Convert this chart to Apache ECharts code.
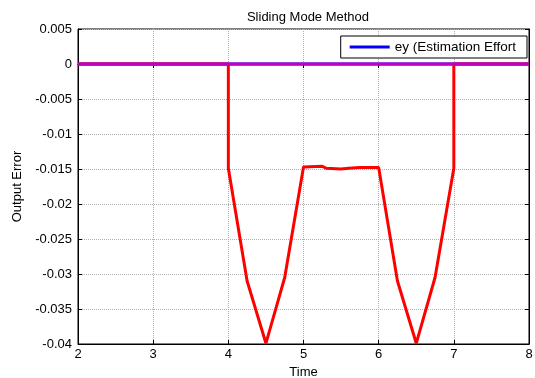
<!DOCTYPE html>
<html><head><meta charset="utf-8">
<script src="https://cdn.jsdelivr.net/npm/echarts@6/dist/echarts.min.js"></script>
<style>html,body{margin:0;padding:0;background:#fff}#c{width:535px;height:378px}</style>
</head><body><div id="c"></div>
<script>
var xTicks = [2, 3, 4, 5, 6, 7, 8];
var yTicks = [0.005, 0, -0.005, -0.01, -0.015, -0.02, -0.025, -0.03, -0.035, -0.04];
var timeFlat = [2, 8];
var eyBlue = [0, 0];
var emMagenta = [0, 0];
var timeRed = [2, 4, 4, 4.25, 4.5, 4.75, 5, 5.25, 5.3, 5.5, 5.6, 5.75, 6, 6.25, 6.5, 6.75, 7, 7, 8];
var errRed = [0, 0, -0.0149, -0.031, -0.0399, -0.0305, -0.0147, -0.0146, -0.0149, -0.015, -0.0149, -0.0148, -0.0148, -0.031, -0.0399, -0.0305, -0.0149, 0, 0];

function pairs(xs, ys){ return xs.map(function(x,i){ return [x, ys[i]]; }); }
var font = 'Liberation Sans, Arial, sans-serif';
var fs = 13;
var chart = echarts.init(document.getElementById('c'), null, {renderer:'canvas'});
var gridLine = {show:true, lineStyle:{color:'#b0b0b0', type:[1,1], width:1}};
chart.setOption({
  animation:false,
  backgroundColor:'#fff',
  title:{text:'Sliding Mode Method', left:303, top:6, textAlign:'center',
    textStyle:{fontFamily:font, fontSize:fs, fontWeight:'normal', color:'#000'}},
  grid:{left:78, right:6, top:29, bottom:34, outerBoundsMode:'none', containLabel:false,
    show:true, borderColor:'#000', borderWidth:1},
  legend:{data:['ey (Estimation Effort'], right:8, top:36, orient:'vertical',
    backgroundColor:'#fff', borderColor:'#000', borderWidth:1, padding:[4,11,4,9],
    itemWidth:40, itemHeight:3, icon:'rect', itemGap:0,
    textStyle:{fontFamily:font, fontSize:13.5, color:'#000'}},
  xAxis:[{type:'value', min:2, max:8, interval:1, name:'Time', nameLocation:'middle', nameGap:22,
    nameTextStyle:{fontFamily:font, fontSize:fs, color:'#000'},
    axisLine:{show:true, onZero:false, lineStyle:{color:'#000', width:1}},
    axisTick:{show:true, inside:true, length:4, lineStyle:{color:'#000'}},
    axisLabel:{fontFamily:font, fontSize:fs, color:'#000', margin:4},
    splitLine:gridLine},
   {type:'value', position:'top', min:2, max:8, interval:1,
    axisLine:{show:true, lineStyle:{color:'#000'}},
    axisTick:{show:true, inside:true, length:4, lineStyle:{color:'#000'}},
    axisLabel:{show:false}, splitLine:{show:false}}],
  yAxis:[{type:'value', min:-0.04, max:0.005, interval:0.005, name:'Output Error', nameLocation:'middle', nameGap:42,
    nameTextStyle:{fontFamily:font, fontSize:fs, color:'#000'},
    axisLine:{show:true, onZero:false, lineStyle:{color:'#000', width:1}},
    axisTick:{show:true, inside:true, length:4, lineStyle:{color:'#000'}},
    axisLabel:{fontFamily:font, fontSize:fs, color:'#000', margin:6,
      formatter:function(v){ return String(parseFloat(v.toFixed(4))); }},
    splitLine:gridLine},
   {type:'value', position:'right', min:-0.04, max:0.005, interval:0.005,
    axisLine:{show:true, lineStyle:{color:'#000'}},
    axisTick:{show:true, inside:true, length:4, lineStyle:{color:'#000'}},
    axisLabel:{show:false}, splitLine:{show:false}}],
  series:[
    {name:'ey (Estimation Effort', type:'line', data:pairs(timeFlat, eyBlue), showSymbol:false,
      lineStyle:{color:'#0000ff', width:3}, itemStyle:{color:'#0000ff'}, z:2},
    {name:'red', type:'line', data:pairs(timeRed, errRed), showSymbol:false,
      lineStyle:{color:'#ff0000', width:3}, itemStyle:{color:'#ff0000'}, z:3},
    {name:'magenta', type:'line', data:pairs(timeFlat, emMagenta), showSymbol:false,
      lineStyle:{color:'#bf00bf', width:3}, itemStyle:{color:'#bf00bf'}, z:4}
  ]
});
</script></body></html>
